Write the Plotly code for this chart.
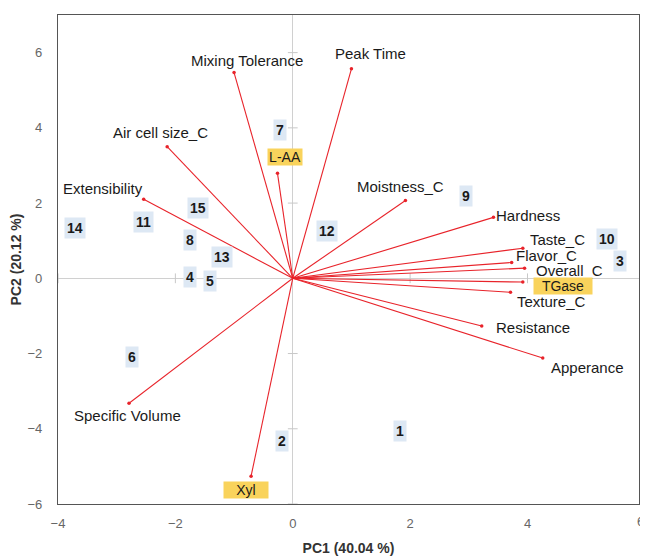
import plotly.graph_objects as go

# ---- data ----
var_names = ["Mixing Tolerance", "Peak Time", "Air cell size_C", "Extensibility", "L-AA",
             "Moistness_C", "Hardness", "Taste_C", "Flavor_C", "Overall_C", "TGase",
             "Texture_C", "Resistance", "Apperance", "Specific Volume", "Xyl"]
var_pc1 = [-1.00, 1.00, -2.14, -2.54, -0.26, 1.92, 3.42, 3.92, 3.73, 3.95, 3.92, 3.71, 3.22, 4.26, -2.79, -0.71]
var_pc2 = [5.47, 5.57, 3.50, 2.10, 2.79, 2.07, 1.62, 0.80, 0.42, 0.27, -0.10, -0.37, -1.27, -2.12, -3.32, -5.26]
highlight_vars = ["L-AA", "TGase", "Xyl"]

sample_ids = ["1", "2", "3", "4", "5", "6", "7", "8", "9", "10", "11", "12", "13", "14", "15"]
sample_pc1 = [1.82, -0.19, 5.57, -1.75, -1.41, -2.74, -0.22, -1.75, 2.96, 5.36, -2.55, 0.58, -1.21, -3.71, -1.62]
sample_pc2 = [-4.06, -4.33, 0.45, 0.03, -0.08, -2.10, 3.93, 1.01, 2.20, 1.04, 1.51, 1.25, 0.56, 1.35, 1.88]

x_ticks = [-4, -2, 0, 2, 4, 6]
y_ticks = [-6, -4, -2, 0, 2, 4, 6]
x_title = "PC1 (40.04 %)"
y_title = "PC2 (20.12 %)"

# ---- styling (label offsets in pixels) ----
label_shift = {
    "Mixing Tolerance": (13, 12), "Peak Time": (19, 15), "Air cell size_C": (-7, 14),
    "Extensibility": (-41, 11), "L-AA": (8, 16), "Moistness_C": (-5, 14), "Hardness": (35, 2),
    "Taste_C": (35, 9), "Flavor_C": (35, 7), "Overall_C": (45, -2), "TGase": (40, -4),
    "Texture_C": (41, -9), "Resistance": (51, -1), "Apperance": (45, -9),
    "Specific Volume": (-2, -12), "Xyl": (-5, -14),
}
box_width = {"L-AA": 34, "TGase": 58, "Xyl": 44}
FONT = "Liberation Sans, Arial"

RED = "#e8232a"
X_RANGE = [-4, 5.9]
Y_RANGE = [-6, 7]
X_TICK_STANDOFF = 7

fig = go.Figure()

# zero-line tick marks
fig.add_trace(go.Scatter(x=[t for t in x_ticks if t != 0], y=[0] * (len(x_ticks) - 1), mode="markers",
                         marker=dict(symbol="line-ns", size=7, line=dict(color="#c8c8c8", width=1)),
                         hoverinfo="skip", showlegend=False, cliponaxis=True))
fig.add_trace(go.Scatter(x=[0] * (len(y_ticks) - 1), y=[t for t in y_ticks if t != 0], mode="markers",
                         marker=dict(symbol="line-ew", size=7, line=dict(color="#c8c8c8", width=1)),
                         hoverinfo="skip", showlegend=False, cliponaxis=True))

# loading vectors
for name, vx, vy in zip(var_names, var_pc1, var_pc2):
    fig.add_trace(go.Scatter(x=[0, vx], y=[0, vy], mode="lines",
                             line=dict(color=RED, width=1.1), hoverinfo="skip", showlegend=False))
fig.add_trace(go.Scatter(x=var_pc1, y=var_pc2, mode="markers",
                         marker=dict(color=RED, size=3.5), text=var_names, showlegend=False))

# variable labels
for name, vx, vy in zip(var_names, var_pc1, var_pc2):
    dx, dy = label_shift[name]
    hl = name in highlight_vars
    fig.add_annotation(x=vx, y=vy, text=name, showarrow=False, xshift=dx, yshift=dy,
                       font=dict(family=FONT, size=15 if not hl else 14, color="#1a1a1a"),
                       bgcolor="#f9d35c" if hl else "rgba(0,0,0,0)",
                       borderpad=0,
                       width=box_width.get(name))

# sample labels
for sid, sx, sy in zip(sample_ids, sample_pc1, sample_pc2):
    fig.add_annotation(x=sx, y=sy, text="<b>" + sid + "</b>", showarrow=False,
                       font=dict(family=FONT, size=14, color="#1a1a1a"),
                       bgcolor="#dde8f4", borderpad=2)

# "6" x tick label just beyond the visible range (kept inside the window)
fig.add_annotation(xref="paper", yref="paper",
                   x=(x_ticks[-1] - X_RANGE[0]) / (X_RANGE[1] - X_RANGE[0]), y=0,
                   xshift=1, yshift=-27, text=str(x_ticks[-1]), showarrow=False,
                   font=dict(family=FONT, size=13, color="#666666"))

axis_common = dict(showgrid=False, zeroline=True, zerolinecolor="#d0d0d0", zerolinewidth=1,
                   showline=True, linecolor="#555555", linewidth=1.2, mirror=True, ticks="",
                   automargin=False,
                   tickfont=dict(family=FONT, size=13, color="#666666"))

# page body has an 8px default margin, so the figure is sized to fit the window
fig.update_layout(
    width=640, height=548,
    margin=dict(l=50, r=9, t=7, b=52),
    paper_bgcolor="white", plot_bgcolor="white",
    xaxis=dict(range=X_RANGE, tickvals=x_ticks, ticklabelstandoff=X_TICK_STANDOFF,
               title=dict(text="<b>" + x_title + "</b>", standoff=14,
                          font=dict(family=FONT, size=14, color="#333333")),
               **axis_common),
    yaxis=dict(range=Y_RANGE, tickvals=y_ticks, ticklabelstandoff=12,
               title=dict(text="<b>" + y_title + "</b>", standoff=11,
                          font=dict(family=FONT, size=14, color="#333333")),
               **axis_common),
    showlegend=False,
)

fig.write_html("out.html")
